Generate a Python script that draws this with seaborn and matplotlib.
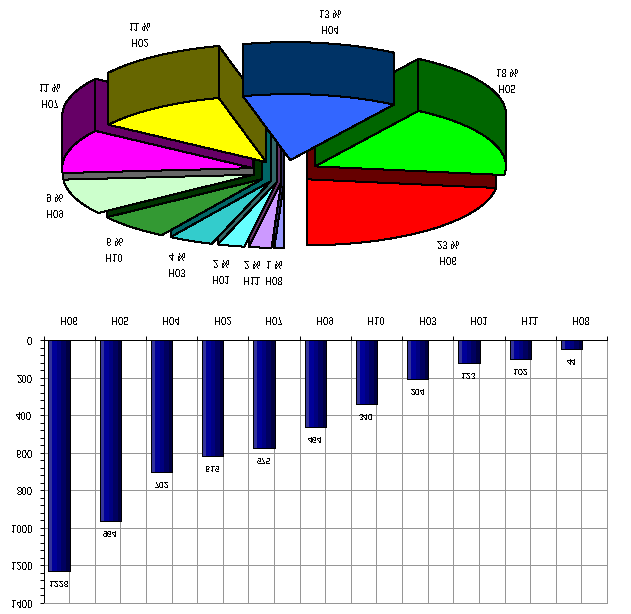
import numpy as np
from matplotlib import pyplot as plt
from matplotlib.colors import ListedColormap
from matplotlib.patches import Polygon
from matplotlib.ticker import MultipleLocator
import seaborn as sns

categories = ['H06', 'H05', 'H04', 'H02', 'H07', 'H09', 'H10', 'H03', 'H01', 'H11', 'H08']
values = [1228, 964, 702, 615, 575, 464, 340, 204, 123, 102, 44]
percents = [23, 18, 13, 11, 11, 9, 6, 4, 2, 2, 1]

top_colors = ['#FF0000', '#00FF00', '#3366FF', '#FFFF00', '#FF00FF', '#CCFFCC',
              '#339933', '#33CCCC', '#66FFFF', '#CC99FF', '#9999FF']
wall_colors = ['#660000', '#006600', '#003366', '#666600', '#660066', '#666666',
               '#003300', '#006666', '#336666', '#663366', '#333366']
bar_stripes = ['#333399', '#000099', '#000080', '#000060', '#000040']

# label anchors in figure pixels
label_x = [448, 507, 330, 140, 50, 55, 114, 177, 221, 252, 274]
label_y = [252, 80, 21, 34, 95, 205, 249, 264, 271, 272, 272]

# back to front
draw_order = [0, 10, 9, 8, 7, 6, 5, 4, 1, 3, 2]

sns.set_theme(style='white')
plt.rcParams['font.family'] = 'Liberation Sans'
plt.rcParams['text.antialiased'] = False
plt.rcParams['patch.antialiased'] = False
plt.rcParams['lines.antialiased'] = False

W, H = 631, 614
fig = plt.figure(figsize=(W/100, H/100), dpi=100, facecolor='white')

# pie, in pixel coordinates
ax_pie = fig.add_axes([0, 0, 1, 1])
ax_pie.set_xlim(0, W)
ax_pie.set_ylim(0, H)
ax_pie.axis('off')

cx, cy = 285, 171
rx, ry = 191, 66
ex, ey = 33, 11
depth = 52


def rim(apex, a):
    return np.column_stack([apex[0] + rx*np.sin(a), apex[1] + ry*np.cos(a)])


def add_poly(pts, color):
    ax_pie.add_patch(Polygon(pts, closed=True, facecolor=color, edgecolor='black',
                             linewidth=0.72, antialiased=False))


shares = np.array(values) / np.sum(values)
edges = np.concatenate([[0], np.cumsum(shares)]) * 2*np.pi
for i in draw_order:
    a0, a1 = edges[i], edges[i+1]
    mid = (a0 + a1) / 2
    apex = np.array([cx + ex*np.sin(mid), cy + ey*np.cos(mid)])
    arc = rim(apex, np.linspace(a0, a1, 80))
    down = np.array([0, depth])
    if np.sin(a0) < 0:
        add_poly([apex, arc[0], arc[0]-down, apex-down], wall_colors[i])
    if np.sin(a1) > 0:
        add_poly([apex, arc[-1], arc[-1]-down, apex-down], wall_colors[i])
    front = np.cos(np.linspace(a0, a1, 80)) < 0
    if front.sum() > 1:
        part = arc[front]
        add_poly(np.vstack([part, (part-down)[::-1]]), wall_colors[i])
    add_poly(np.vstack([apex, arc]), top_colors[i])

for name, pct, x, y in zip(categories, percents, label_x, label_y):
    ax_pie.text(x, y, '%s\n%d %%' % (name, pct), ha='center', va='center',
                fontsize=7, color='black', linespacing=1.75)

# bars
ax = fig.add_axes([43.5/W, 341.3/H, 563.5/W, 262.7/H])
sns.barplot(x=categories, y=values, width=0.415, ax=ax, color='#000080',
            edgecolor='black', linewidth=0.72)

shift = 0.305
xlim = (-shift, len(categories) - shift)
ylim = (0, 1400)
stripes = np.arange(len(bar_stripes)).reshape(1, -1)
for patch in ax.containers[0]:
    x0, y0 = patch.get_xy()
    im = ax.imshow(stripes, extent=(x0, x0+patch.get_width(), y0, y0+patch.get_height()),
                   cmap=ListedColormap(bar_stripes), aspect='auto',
                   interpolation='nearest', zorder=2.5)
    im.set_clip_path(patch)
    patch.set_facecolor('none')
    patch.set_zorder(3)

ax.bar_label(ax.containers[0], padding=5, fontsize=6.3, color='black')

ax.set_xlim(xlim)
ax.set_ylim(ylim)
ax.set_xlabel('')
ax.set_ylabel('')

boundaries = np.arange(len(categories) + 1) - shift
centers = boundaries[:-1] + 0.5
ax.set_xticks(boundaries)
ax.set_xticklabels([])
ax.set_xticks(centers, minor=True)
ax.set_xticklabels(categories, minor=True, fontsize=7, color='black')
ax.tick_params(axis='x', which='major', bottom=True, length=3, width=0.72, color='black')
ax.tick_params(axis='x', which='minor', bottom=False, length=0, pad=11.5)

ax.yaxis.set_major_locator(MultipleLocator(200))
ax.yaxis.set_minor_locator(MultipleLocator(40))
ax.tick_params(axis='y', which='major', left=True, length=3, width=0.72, color='black',
               labelsize=7, labelcolor='black', pad=5)
ax.tick_params(axis='y', which='minor', left=True, length=3, width=0.72, color='black')

ax.set_axisbelow(True)
ax.grid(True, which='major', axis='y', color='#969696', linewidth=0.72)
ax.grid(True, which='both', axis='x', color='#969696', linewidth=0.72)

for side in ['top', 'right']:
    ax.spines[side].set_color('#969696')
    ax.spines[side].set_linewidth(0.72)
for side in ['left', 'bottom']:
    ax.spines[side].set_color('black')
    ax.spines[side].set_linewidth(0.72)
    ax.spines[side].set_visible(True)

fig.savefig('out.png', dpi=100)
plt.close(fig)

# the reference is upside down
img = plt.imread('out.png')
plt.imsave('out.png', img[::-1])
